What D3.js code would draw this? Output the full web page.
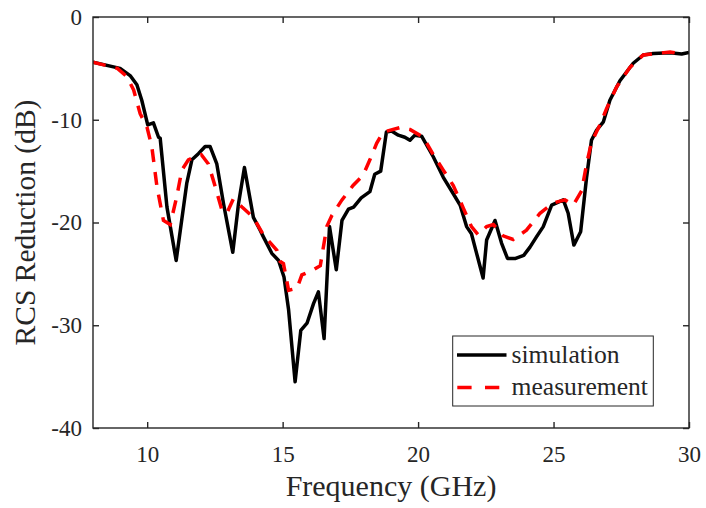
<!DOCTYPE html>
<html><head><meta charset="utf-8">
<script src="https://cdn.jsdelivr.net/npm/d3@7"></script>
<style>body{margin:0;background:#fff}svg{display:block}svg text{font-family:'Liberation Serif','Times New Roman',Times,'DejaVu Serif',serif !important;fill:#262626}</style>
</head><body><div id="c"></div>
<script>
const simFreq = [8,9.0,9.37,9.62,9.8,10.02,10.23,10.42,10.48,10.73,11.07,11.46,11.65,11.89,12.14,12.32,12.57,12.82,13.16,13.37,13.59,13.92,14.17,14.29,14.6,14.85,15.05,15.22,15.46,15.67,15.9,16.14,16.32,16.53,16.73,16.98,17.19,17.43,17.62,17.9,18.22,18.4,18.62,18.83,19.02,19.27,19.51,19.7,19.88,20.13,20.56,20.93,21.3,21.55,21.79,21.97,22.16,22.4,22.53,22.84,23.08,23.3,23.6,23.9,24.13,24.37,24.62,24.93,25.36,25.54,25.75,26.0,26.22,26.4,26.59,26.84,27.08,27.45,27.94,28.31,28.68,29.3,29.73,30];
const simVal = [-4.4,-5.0,-5.7,-6.6,-8.1,-10.5,-10.3,-11.7,-11.8,-18.5,-23.7,-16.2,-13.9,-13.3,-12.6,-12.6,-14.3,-18.2,-22.9,-18.2,-14.65,-19.5,-20.75,-21.4,-23.0,-23.7,-25.3,-28.5,-35.5,-30.5,-29.8,-27.9,-26.75,-31.3,-20.4,-24.6,-19.8,-18.7,-18.5,-17.6,-17.0,-15.3,-15.0,-11.2,-11.1,-11.5,-11.7,-12.0,-11.5,-11.6,-13.6,-15.6,-17.2,-18.3,-20.4,-21.1,-23.0,-25.4,-21.7,-19.8,-22.0,-23.5,-23.5,-23.2,-22.4,-21.4,-20.4,-18.3,-17.8,-19.1,-22.2,-20.9,-15.6,-12.0,-11.0,-10.2,-8.1,-6.2,-4.5,-3.7,-3.56,-3.47,-3.6,-3.45];
const measFreq = [8,8.9,9.25,9.5,9.74,9.99,10.17,10.36,10.6,10.85,11.09,11.28,11.52,11.77,12.0,12.26,12.51,12.76,12.94,13.18,13.5,13.92,14.29,14.42,14.79,14.91,15.03,15.22,15.53,15.71,16.14,16.39,16.63,16.82,17.19,17.6,17.97,18.22,18.47,18.71,19.33,19.7,20.19,20.56,20.93,21.3,21.67,21.97,22.22,22.53,22.78,23.14,23.51,24.0,24.5,24.99,25.42,25.73,26.04,26.22,26.4,26.71,26.96,27.33,27.82,28.31,29.3,29.7];
const measVal = [-4.4,-5.0,-5.8,-7.1,-9.4,-10.7,-12.6,-16.5,-19.8,-20.2,-17.5,-14.9,-13.9,-13.6,-13.4,-14.3,-16.5,-18.8,-19.1,-17.7,-18.5,-19.5,-21.2,-21.6,-22.7,-23.8,-24.0,-26.6,-26.4,-25.1,-24.6,-24.2,-20.4,-19.3,-17.8,-16.4,-15.4,-13.9,-12.3,-11.2,-10.76,-10.95,-11.7,-13.4,-14.9,-16.4,-18.6,-20.4,-21.2,-20.4,-20.2,-21.3,-21.65,-20.75,-19.1,-18.1,-17.8,-18.3,-16.9,-14.3,-12.2,-10.5,-8.9,-6.8,-4.9,-3.7,-3.4,-3.6];
const xTicks = [10,15,20,25,30];
const yTicks = [0,-10,-20,-30,-40];
const seriesNames = ["simulation","measurement"];

const W=706,H=508, L=93, R=689, T=17, B=428;
const FONT="'Liberation Serif','Times New Roman',Times,'DejaVu Serif',serif";
const svg=d3.select("#c").append("svg").attr("width",W).attr("height",H).attr("font-family",FONT);
const x=d3.scaleLinear().domain([8,30]).range([L,R]);
const y=d3.scaleLinear().domain([-40,0]).range([B,T]);
const ax="#262626";
svg.append("defs").append("clipPath").attr("id","cp").append("rect").attr("x",L).attr("y",T).attr("width",R-L).attr("height",B-T);

const line=d3.line().x(d=>x(d[0])).y(d=>y(d[1]));
const g=svg.append("g").attr("clip-path","url(#cp)");
g.append("path").datum(simFreq.map((f,i)=>[f,simVal[i]])).attr("d",line).attr("fill","none").attr("stroke","#000").attr("stroke-width",3.5).attr("stroke-linejoin","round");
g.append("path").datum(measFreq.map((f,i)=>[f,measVal[i]])).attr("d",line).attr("fill","none").attr("stroke","#ff0000").attr("stroke-width",3.5).attr("stroke-dasharray","13,10");

const xb=svg.append("g").attr("transform",`translate(0,${B})`).call(d3.axisBottom(x).tickValues(xTicks).tickSize(-6).tickPadding(18).tickFormat(d3.format("d")));
const xt=svg.append("g").attr("transform",`translate(0,${T})`).call(d3.axisTop(x).tickValues(xTicks).tickSize(-6).tickFormat(""));
const yl=svg.append("g").attr("transform",`translate(${L},0)`).call(d3.axisLeft(y).tickValues(yTicks).tickSize(-6).tickPadding(11).tickFormat(d=>d===0?"0":"-"+Math.abs(d)));
const yr=svg.append("g").attr("transform",`translate(${R},0)`).call(d3.axisRight(y).tickValues(yTicks).tickSize(-6).tickFormat(""));
[xb,xt,yl,yr].forEach(a=>{a.attr("font-family",FONT);a.selectAll(".tick line").attr("stroke",ax).attr("stroke-width",1.4);a.selectAll("text").attr("font-size",23).attr("font-family",FONT).attr("fill",ax);});
svg.selectAll(".domain").remove();
svg.append("rect").attr("x",L).attr("y",T).attr("width",R-L).attr("height",B-T).attr("fill","none").attr("stroke",ax).attr("stroke-width",1.4);

svg.append("text").attr("x",(L+R)/2).attr("y",496).attr("text-anchor","middle").attr("font-size",30).text("Frequency (GHz)");
svg.append("text").attr("transform",`translate(35,${(T+B)/2}) rotate(-90)`).attr("text-anchor","middle").attr("font-size",29.5).text("RCS Reduction (dB)");

const lg=svg.append("g");
lg.append("rect").attr("x",452.7).attr("y",336).attr("width",200.6).attr("height",70).attr("fill","#fff").attr("stroke",ax).attr("stroke-width",1);
lg.append("line").attr("x1",457).attr("x2",506.5).attr("y1",355).attr("y2",355).attr("stroke","#000").attr("stroke-width",3.5);
lg.append("line").attr("x1",457.3).attr("x2",506.5).attr("y1",387.5).attr("y2",387.5).attr("stroke","#ff0000").attr("stroke-width",3.5).attr("stroke-dasharray","14.3,13.4");
lg.append("text").attr("x",511.5).attr("y",363).attr("font-size",25.6).text(seriesNames[0]);
lg.append("text").attr("x",511.5).attr("y",395).attr("font-size",25.6).text(seriesNames[1]);
</script></body></html>
